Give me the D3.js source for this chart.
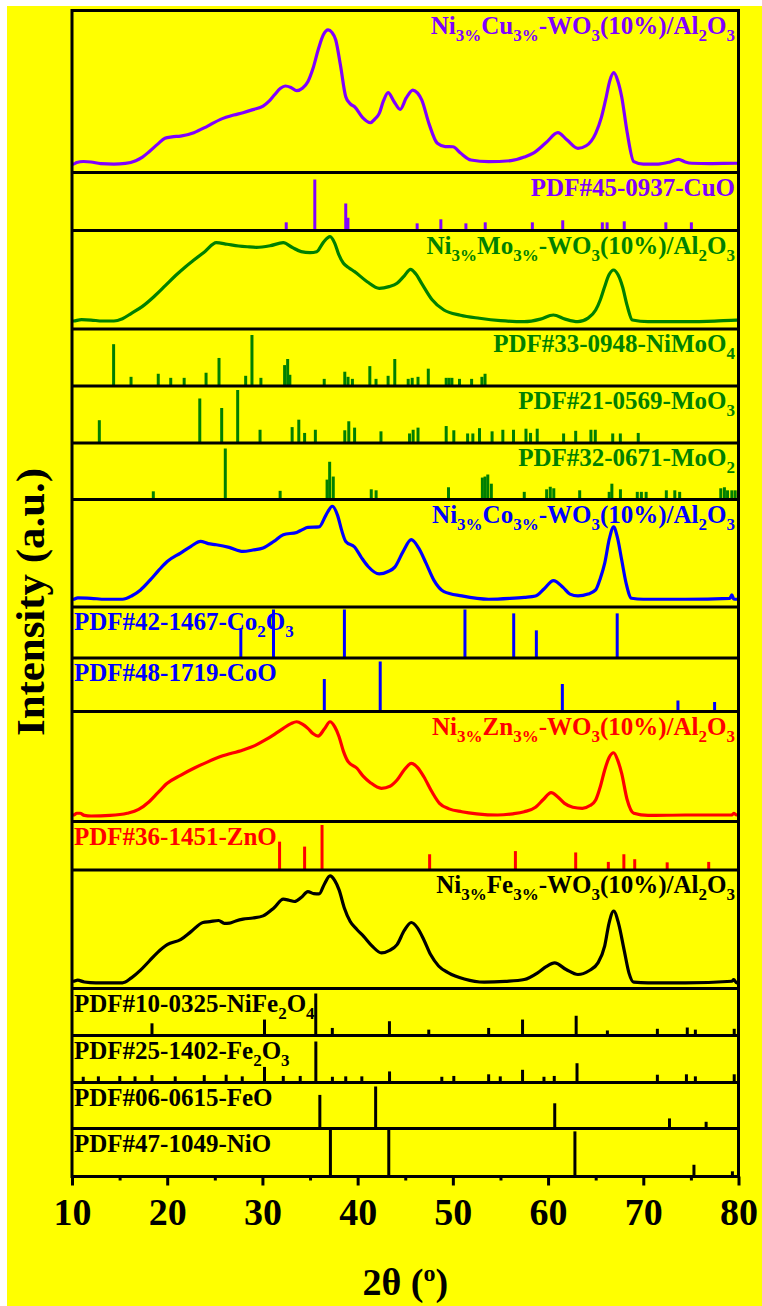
<!DOCTYPE html>
<html>
<head>
<meta charset="utf-8">
<script src="https://cdn.jsdelivr.net/npm/d3@7"></script>
<style>
  body { margin: 0; background: #fff; }
  svg { display: block; }
  text { font-family: "Liberation Serif", "Times New Roman", serif; font-weight: bold; }
</style>
</head>
<body>
<svg id="chart" width="762" height="1306"></svg>
<script>
// ---- measured patterns: [2theta, intensity (a.u., 0-100 of panel)] ----
const cuCurve = [[10,5.5],[10.15,5.2],[10.5,6.2],[11.2,6.8],[12,6.5],[13,5.5],[14.4,5.2],[15.6,5.6],[16.7,7.3],[17.4,9.5],[18.1,12.8],[19,17.5],[19.76,21.1],[20.5,22],[21.4,22.5],[22.8,24.6],[24.2,28.5],[25.6,32.8],[27,35.5],[27.96,36.9],[29,38.8],[30.07,41],[30.7,44],[31.25,47.8],[31.9,52],[32.4,53.4],[33,52.5],[33.6,50.5],[34.2,52],[34.77,56],[35.3,64],[35.85,75.6],[36.4,85],[36.9,88],[37.3,86.5],[37.7,81.8],[38.2,66],[38.75,46.8],[39.2,42.5],[39.68,40.6],[40.5,34],[41.33,30.7],[41.8,33],[42.27,36.5],[42.7,44],[43.2,49.3],[43.8,44],[44.47,39],[45.1,46],[45.8,50.9],[46.3,49],[46.73,44.8],[47.5,30],[48.37,18],[49.2,16],[50,15.9],[50.8,12],[51.9,7.7],[53.76,6.7],[56.1,7.3],[57.5,9.5],[58.45,11.9],[59.8,18.5],[61.03,24.6],[62,20],[63.14,14.9],[64,16.5],[65,24.2],[65.6,34],[66.04,44.8],[66.5,57],[66.9,61.6],[67.3,57],[67.73,46.8],[68.3,25],[69,6.7],[70,5.2],[71.57,5.2],[72.8,6.5],[73.7,8.1],[74.4,6.5],[75.1,5.7],[77,5.5],[79.8,5.7],[80,5.5]];
const moCurve = [[10,8],[10.15,8.1],[11,9.5],[12,9.1],[13.2,8.1],[14.4,8.1],[15.3,10.5],[16.24,15.9],[17.4,23],[18.6,32.8],[19.8,44],[20.94,54.8],[21.9,63],[22.8,70],[24,79],[25.15,87.6],[26.3,86],[27.5,84.3],[28.4,83.5],[29.37,82.9],[30.8,84.5],[32.19,87.6],[33.1,83],[34.07,78.5],[35,77.5],[35.7,78.5],[36.4,88],[37.1,93.7],[37.6,87],[38,76],[38.51,66.7],[39.1,62],[39.68,58.2],[41,48],[42.27,41.3],[43.3,43],[44.14,46.4],[44.9,54],[45.55,60.6],[46.1,56],[46.72,46.4],[47.8,30],[49.06,19.3],[50.8,14],[52.8,10.9],[55,8.5],[57.5,7.4],[59.2,10],[60.55,14.2],[61.8,10],[63.13,7.4],[64.2,11],[65,19.3],[65.5,30],[65.94,42.9],[66.4,55],[66.88,59.9],[67.35,55],[67.82,42.9],[68.3,24],[68.85,9.1],[70.5,7.4],[74.4,7.4],[77.5,8],[79.8,9.1],[80,9]];
const coCurve = [[10,7.5],[10.15,7.2],[10.6,8.5],[12,8.1],[13.5,7.2],[15.3,7.2],[16.3,10.5],[17.2,15.9],[18.2,25],[19.1,34],[20,42.3],[21.4,50.2],[22.5,56.5],[23.5,61],[24.3,59],[25.15,57.9],[26.5,55.5],[27.96,51.7],[29,53],[30.07,54.9],[31.2,61],[32.19,67.3],[33.6,69.4],[34.2,72],[34.77,74.1],[35.95,74.5],[36.7,86],[37.34,93.7],[37.9,85],[38.3,72],[38.75,61],[39.68,55.8],[40.4,46],[41.1,37.7],[42.27,30.8],[43.2,33],[43.9,37.1],[44.8,52],[45.63,62.6],[46.4,55],[47.18,40.8],[48,25],[49.06,14.3],[50.94,10.3],[53.76,7.2],[56,8],[57.5,9],[58.68,10.3],[59.6,17],[60.56,24.6],[61.6,18],[62.3,12],[63.14,10.3],[64.2,12],[65,15.9],[65.5,27],[65.95,40.8],[66.45,64],[66.89,74.5],[67.3,64],[67.73,43.9],[68.2,22],[68.76,8.1],[70,7.2],[74.4,7.2],[79.1,8.1],[79.3,11.2],[79.5,7.5],[79.8,7.2],[80,7.5]];
const znCurve = [[10,6],[10.15,5.9],[10.5,7.5],[10.85,7.5],[11.3,5.5],[12,5],[14,5.5],[15.8,7.5],[17,11],[18.1,18],[19,26],[20,34.7],[21.4,42],[22.8,48.4],[24.2,54],[25.6,59],[27.96,65],[29.2,69],[30.3,74.1],[31.3,79.5],[32.19,84.7],[33,89],[33.6,90.7],[34.2,88.5],[34.77,84.7],[35.3,80],[35.85,77.7],[36.5,84],[37.1,90.7],[37.6,86],[38.05,77.1],[38.5,64],[39,54.4],[39.93,48.4],[40.6,41],[41.34,35.3],[42.5,30.2],[43.4,32],[44.14,37.7],[44.9,47],[45.64,52.9],[46.3,49],[46.95,40.7],[47.8,27],[48.6,16.5],[49.6,11.5],[50.94,8.9],[52.5,7],[54.7,5.9],[56.3,7],[57.5,8.9],[58.68,12.9],[59.5,20],[60.32,26.2],[61,22.5],[61.73,16.5],[62.6,13],[63.6,12],[64.4,14.5],[65,19.5],[65.5,32],[65.95,46.8],[66.4,58],[66.89,62.5],[67.3,56],[67.73,43.7],[68.3,20],[69,7.5],[70.5,5.5],[74.4,5.9],[79.3,5.9],[79.5,7.5],[79.8,5.9],[80,6]];
const feCurve = [[10,6],[10.15,6.1],[10.6,7],[11.3,5.5],[12.5,4.8],[14,4.8],[15.3,4.8],[16.24,9],[17.2,15.5],[18.1,23],[19,30.5],[20,37],[21.4,41.2],[22.5,48],[23.75,55.7],[24.5,56.5],[25.4,57.4],[26,55],[26.55,55.2],[27.2,57],[27.96,58.5],[29,59.5],[30.07,61.3],[31.2,68],[32.19,75.4],[32.8,74.5],[33.36,73.4],[34.1,77],[34.77,81.8],[35.4,80],[35.95,79.8],[36.5,88],[37.1,95],[37.6,91],[38.05,83.2],[38.6,68],[39.22,56.6],[39.9,50],[40.63,44],[41.5,36],[42.5,30],[43.3,32],[44.14,37],[44.9,49],[45.64,55.7],[46.3,51],[46.95,41.2],[47.66,28.6],[48.5,19],[49.54,13.2],[51.2,8],[53.29,5.3],[55.5,6],[57.5,7.6],[58.9,13.2],[59.8,18.5],[60.69,21.6],[61.9,16],[63.14,11.8],[64.3,15],[65.24,21.6],[65.95,36],[66.4,55],[66.89,65.4],[67.4,55],[68,32],[68.5,13],[69,5.3],[70.5,4.8],[74.4,4.8],[79.3,6.1],[79.5,7.5],[79.8,4.8],[80,5]];

// ---- reference cards: [2theta, relative intensity] ----
const cuoSticks = [[32.5,16],[35.5,100],[38.75,53],[38.98,25],[46.25,14],[48.74,22],[51.37,14],[53.4,16],[58.35,16],[61.54,20],[65.7,16],[66.2,16],[68.0,18],[72.37,16],[75.05,16]];
const nimoo4Sticks = [[14.37,82],[16.2,18],[19.06,24],[20.37,16],[21.78,16],[24.08,26],[25.44,55],[28.24,20],[28.9,100],[29.84,16],[32.33,41],[32.65,53],[32.88,22],[36.49,14],[38.65,28],[38.99,18],[39.45,14],[41.28,39],[41.93,14],[43.2,20],[43.9,53],[45.31,14],[45.73,16],[46.34,18],[47.42,34],[49.3,16],[49.6,16],[49.9,16],[50.7,14],[51.97,14],[53.05,18],[53.38,24]];
const moo3Sticks = [[12.87,43],[23.42,84],[25.72,66],[27.4,100],[29.75,25],[33.12,30],[33.82,44],[34.43,19],[35.56,25],[38.65,24],[39.07,41],[39.68,29],[42.45,22],[45.45,18],[45.83,25],[46.34,29],[49.3,32],[50.1,24],[51.55,18],[52.1,18],[52.8,28],[54.12,22],[55.25,25],[56.37,25],[57.68,27],[58.16,19],[58.86,27],[61.63,18],[62.9,23],[64.5,25],[64.96,25],[66.79,18],[67.59,18],[69.47,19]];
const moo2Sticks = [[18.54,16],[26.1,100],[31.86,17],[36.79,39],[37.06,74],[37.44,45],[41.43,20],[41.94,18],[49.54,24],[53.1,43],[53.38,45],[53.67,49],[54.04,31],[57.5,15],[59.85,20],[60.23,25],[60.6,22],[63.32,18],[66.42,15],[66.7,31],[67.6,20],[69.37,15],[69.8,15],[70.3,15],[72.42,18],[73.31,18],[73.82,15],[78.14,22],[78.52,24],[78.85,18],[79.3,18],[79.65,18]];
const co2o3Sticks = [[27.73,60],[31.16,100],[38.61,100],[51.27,100],[56.39,92],[58.77,57],[67.26,92]];
const cooSticks = [[36.5,65],[42.37,100],[61.5,55],[73.64,22],[77.49,19]];
const znoSticks = [[31.8,63],[34.43,52],[36.26,100],[47.56,35],[56.57,42],[62.9,39],[66.33,18],[67.96,35],[69.1,24],[72.51,17],[76.87,18]];
const nife2o4Sticks = [[18.4,29],[30.22,38],[35.6,100],[37.34,18],[43.34,34],[47.47,14],[53.76,18],[57.32,38],[62.95,47],[66.23,12],[71.48,16],[74.62,19],[75.47,14],[79.55,16]];
const fe2o3Sticks = [[11.18,14],[12.77,15],[15.02,16],[16.62,15],[18.4,18],[20.84,15],[23.89,18],[26.19,19],[27.88,15],[30.22,38],[32.19,16],[33.97,16],[35.61,100],[37.35,14],[38.75,15],[40.44,15],[43.35,27],[48.84,14],[50.1,16],[53.76,20],[54.98,15],[57.32,31],[59.57,14],[60.65,16],[63.04,47],[71.48,19],[74.53,20],[75.47,15],[79.55,20]];
const feoSticks = [[36.03,80],[41.89,100],[60.7,60],[72.75,24],[76.6,16]];
const nioSticks = [[37.14,100],[43.27,100],[62.82,96],[75.32,25],[79.36,11]];

// ---- labels: [text, "sub"?] pieces ----
const cuLabel = [["Ni"],["3%","s"],["Cu"],["3%","s"],["-WO"],["3","s"],["(10%)/Al"],["2","s"],["O"],["3","s"]];
const moLabel = [["Ni"],["3%","s"],["Mo"],["3%","s"],["-WO"],["3","s"],["(10%)/Al"],["2","s"],["O"],["3","s"]];
const coLabel = [["Ni"],["3%","s"],["Co"],["3%","s"],["-WO"],["3","s"],["(10%)/Al"],["2","s"],["O"],["3","s"]];
const znLabel = [["Ni"],["3%","s"],["Zn"],["3%","s"],["-WO"],["3","s"],["(10%)/Al"],["2","s"],["O"],["3","s"]];
const feLabel = [["Ni"],["3%","s"],["Fe"],["3%","s"],["-WO"],["3","s"],["(10%)/Al"],["2","s"],["O"],["3","s"]];
const xTicks = [10, 20, 30, 40, 50, 60, 70, 80];
const xMinorTicks = [15, 25, 35, 45, 55, 65, 75];

// ---- layout ----
const config = { left: 72, right: 738.5, top: 10.5 };
const purple = "#8000ff", green = "#008000", blue = "#0000ff", red = "#ff0000", black = "#000";

const panels = [
  { h: 162, kind: "curve", data: cuCurve, color: purple, label: cuLabel, align: "end" },
  { h: 58, kind: "stick", data: cuoSticks, color: purple, label: [["PDF#45-0937-CuO"]], align: "end", max: 51 },
  { h: 98.5, kind: "curve", data: moCurve, color: green, label: moLabel, align: "end" },
  { h: 57, kind: "stick", data: nimoo4Sticks, color: green, label: [["PDF#33-0948-NiMoO"],["4","s"]], align: "end", max: 51 },
  { h: 57, kind: "stick", data: moo3Sticks, color: green, label: [["PDF#21-0569-MoO"],["3","s"]], align: "end", max: 53 },
  { h: 56.5, kind: "stick", data: moo2Sticks, color: green, label: [["PDF#32-0671-MoO"],["2","s"]], align: "end", max: 51 },
  { h: 107.5, kind: "curve", data: coCurve, color: blue, label: coLabel, align: "end" },
  { h: 51, kind: "stick", data: co2o3Sticks, color: blue, label: [["PDF#42-1467-Co"],["2","s"],["O"],["3","s"]], align: "start", max: 48.5 },
  { h: 53.5, kind: "stick", data: cooSticks, color: blue, label: [["PDF#48-1719-CoO"]], align: "start", max: 50 },
  { h: 110, kind: "curve", data: znCurve, color: red, label: znLabel, align: "end" },
  { h: 48.5, kind: "stick", data: znoSticks, color: red, label: [["PDF#36-1451-ZnO"]], align: "start", max: 45 },
  { h: 118.5, kind: "curve", data: feCurve, color: black, label: feLabel, align: "end" },
  { h: 47, kind: "stick", data: nife2o4Sticks, color: black, label: [["PDF#10-0325-NiFe"],["2","s"],["O"],["4","s"]], align: "start", max: 42 },
  { h: 47, kind: "stick", data: fe2o3Sticks, color: black, label: [["PDF#25-1402-Fe"],["2","s"],["O"],["3","s"]], align: "start", max: 41 },
  { h: 46, kind: "stick", data: feoSticks, color: black, label: [["PDF#06-0615-FeO"]], align: "start", max: 42 },
  { h: 48, kind: "stick", data: nioSticks, color: black, label: [["PDF#47-1049-NiO"]], align: "start", max: 47 },
];

let acc = config.top;
panels.forEach((p) => {
  p.y0 = acc;
  p.y1 = acc + p.h;
  acc = p.y1;
});
const bottom = acc;

const svg = d3.select("#chart");
svg.append("rect").attr("x", 7).attr("y", 6).attr("width", 755).attr("height", 1300).attr("fill", "#ffff00");

const x = d3.scaleLinear().domain([10, 80]).range([config.left, config.right]);

function addLabel(g, p) {
  const tx = p.align === "end" ? config.right - 3.5 : config.left + 2;
  const t = g.append("text")
    .attr("x", tx)
    .attr("y", p.y0 + 23)
    .attr("text-anchor", p.align)
    .attr("fill", p.color)
    .style("font-size", "25px");
  let shifted = false;
  p.label.forEach((part) => {
    const sub = part[1] === "s";
    const ts = t.append("tspan").text(part[0]);
    if (sub && !shifted) { ts.attr("dy", 7); shifted = true; }
    if (!sub && shifted) { ts.attr("dy", -7); shifted = false; }
    if (sub) ts.style("font-size", "17px");
  });
}

panels.forEach((p) => {
  const g = svg.append("g");
  if (p.kind === "curve") {
    const y = d3.scaleLinear().domain([0, 100]).range([p.y1, p.y0]);
    const line = d3.line()
      .x((d) => x(d[0]))
      .y((d) => y(d[1]))
      .curve(d3.curveMonotoneX);
    g.append("path")
      .datum(p.data)
      .attr("d", line)
      .attr("fill", "none")
      .attr("stroke", p.color)
      .attr("stroke-width", 3.2)
      .attr("stroke-linejoin", "round");
  } else {
    const y = d3.scaleLinear().domain([0, 100]).range([p.y1, p.y1 - p.max]);
    g.selectAll("line")
      .data(p.data)
      .enter()
      .append("line")
      .attr("x1", (d) => x(d[0]))
      .attr("x2", (d) => x(d[0]))
      .attr("y1", p.y1)
      .attr("y2", (d) => y(d[1]))
      .attr("stroke", p.color)
      .attr("stroke-width", 3);
  }
  addLabel(g, p);
});

// separators between panels
svg.selectAll(".sep")
  .data(panels.slice(1))
  .enter()
  .append("line")
  .attr("class", "sep")
  .attr("x1", config.left)
  .attr("x2", config.right)
  .attr("y1", (d) => d.y0)
  .attr("y2", (d) => d.y0)
  .attr("stroke", "#000")
  .attr("stroke-width", 3);

// x axis
const xAxis = d3.axisBottom(x).tickValues(xTicks).tickSize(9).tickPadding(12.5).tickSizeOuter(0);
const gx = svg.append("g").attr("transform", `translate(0,${bottom})`).call(xAxis);
gx.select(".domain").remove();
gx.selectAll(".tick line").attr("stroke-width", 3);
gx.selectAll(".tick text").style("font-size", "38px").attr("fill", "#000");

const gxm = svg.append("g").attr("transform", `translate(0,${bottom})`)
  .call(d3.axisBottom(x).tickValues(xMinorTicks).tickSize(4).tickFormat(""));
gxm.select(".domain").remove();
gxm.selectAll(".tick line").attr("stroke-width", 3);

// frame
svg.append("rect")
  .attr("x", config.left)
  .attr("y", config.top)
  .attr("width", config.right - config.left)
  .attr("height", bottom - config.top)
  .attr("fill", "none")
  .attr("stroke", "#000")
  .attr("stroke-width", 3);

// axis titles
const xt = svg.append("text")
  .attr("x", (config.left + config.right) / 2)
  .attr("y", 1295)
  .attr("text-anchor", "middle")
  .style("font-size", "38px");
xt.append("tspan").text("2θ (");
xt.append("tspan").text("o").attr("dy", -14).style("font-size", "24px");
xt.append("tspan").text(")").attr("dy", 14);

svg.append("text")
  .attr("transform", "translate(44,602) rotate(-90)")
  .attr("text-anchor", "middle")
  .attr("textLength", 268)
  .attr("lengthAdjust", "spacingAndGlyphs")
  .style("font-size", "40px")
  .text("Intensity (a.u.)");
</script>
</body>
</html>
